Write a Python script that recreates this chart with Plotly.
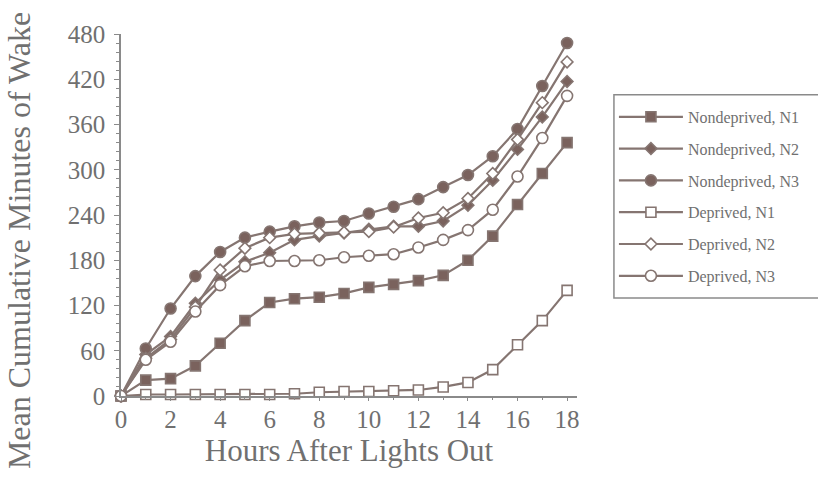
import plotly.graph_objects as go

# Hours after lights out
hours = list(range(0, 19))

# Mean cumulative minutes of wake per group
nondeprived_n1 = [0, 21, 23, 40, 70, 100, 124, 129, 131, 136, 144, 148, 153, 160, 180, 212, 254, 295, 336]
nondeprived_n2 = [0, 55, 79, 123, 154, 178, 190, 207, 212, 216, 221, 225, 225, 232, 253, 286, 327, 370, 417]
nondeprived_n3 = [0, 63, 116, 159, 191, 210, 218, 225, 230, 232, 242, 251, 261, 277, 293, 318, 354, 411, 468]
deprived_n1 = [0, 2, 2, 2, 2, 2, 2, 3, 5, 6, 6, 7, 8, 12, 18, 35, 68, 100, 140]
deprived_n2 = [0, 50, 75, 118, 167, 196, 210, 215, 216, 217, 218, 224, 236, 243, 262, 295, 340, 389, 443]
deprived_n3 = [0, 48, 72, 112, 147, 172, 179, 179, 180, 184, 186, 188, 197, 207, 220, 247, 291, 342, 398]

y_ticks = [0, 60, 120, 180, 240, 300, 360, 420, 480]
x_ticks = [0, 2, 4, 6, 8, 10, 12, 14, 16, 18]

LINE = "#857571"
FILL = "#7a625d"
TEXT = "#707070"
AXIS = "#8a8a8a"
SERIF = "Liberation Serif, Times New Roman, serif"

series = [
    ("Nondeprived, N1", nondeprived_n1, "square", FILL, 10),
    ("Nondeprived, N2", nondeprived_n2, "diamond", FILL, 9),
    ("Nondeprived, N3", nondeprived_n3, "circle", FILL, 11),
    ("Deprived, N1", deprived_n1, "square", "white", 10),
    ("Deprived, N2", deprived_n2, "diamond", "white", 9),
    ("Deprived, N3", deprived_n3, "circle", "white", 11),
]

fig = go.Figure()
for i, (name, vals, sym, fill, size) in enumerate(series):
    fig.add_trace(go.Scatter(
        x=hours, y=vals, name=name, mode="lines+markers",
        line=dict(color=LINE, width=2.2),
        marker=dict(symbol=sym, size=size, color=fill,
                    line=dict(color=LINE, width=1.6)),
        legendgroup=f"g{i}",
        cliponaxis=False,
    ))

# Vertical axis title placed in page pixels so it spans the full height
fig.add_annotation(
    text="Mean Cumulative Minutes of Wake",
    xref="paper", yref="paper",
    x=-0.222, y=0.43, xanchor="center", yanchor="middle",
    textangle=-90, showarrow=False,
    font=dict(family=SERIF, size=32, color=TEXT),
)

# Legend frame, running past the right edge of the page
fig.add_shape(
    type="rect", xref="paper", yref="paper",
    x0=1.081, x1=1.60, y0=0.271, y1=0.832,
    line=dict(color=AXIS, width=1.5), fillcolor="white", layer="below",
)

fig.update_layout(
    width=818, height=480,
    margin=dict(l=121, r=241, t=34, b=84),
    paper_bgcolor="white", plot_bgcolor="white",
    font=dict(family=SERIF, color=TEXT),
    showlegend=True,
    legend=dict(
        x=1.081, y=0.818, xanchor="left", yanchor="top",
        bgcolor="rgba(0,0,0,0)", borderwidth=0,
        font=dict(family=SERIF, size=16, color=TEXT),
        itemwidth=64, tracegroupgap=8,
    ),
    xaxis=dict(
        range=[0, 18.4], tickvals=x_ticks, ticktext=[str(v) for v in x_ticks],
        showgrid=False, zeroline=False,
        showline=True, linecolor=AXIS, linewidth=1.5,
        ticks="outside", ticklen=3, tickcolor=AXIS,
        minor=dict(dtick=1, ticks="outside", ticklen=2, tickcolor=AXIS),
        tickfont=dict(size=25, color=TEXT),
        ticklabelstandoff=-3,
        title=dict(text="Hours After Lights Out", font=dict(size=31, color=TEXT), standoff=0),
    ),
    yaxis=dict(
        range=[0, 480], tickvals=y_ticks, ticktext=[str(v) for v in y_ticks],
        showgrid=False, zeroline=False,
        showline=True, linecolor=AXIS, linewidth=1.5,
        ticks="outside", ticklen=5, tickcolor=AXIS,
        minor=dict(dtick=12, ticks="outside", ticklen=3, tickcolor=AXIS),
        tickfont=dict(size=25, color=TEXT),
        ticklabelstandoff=4,
    ),
)

fig.write_html("out.html")
